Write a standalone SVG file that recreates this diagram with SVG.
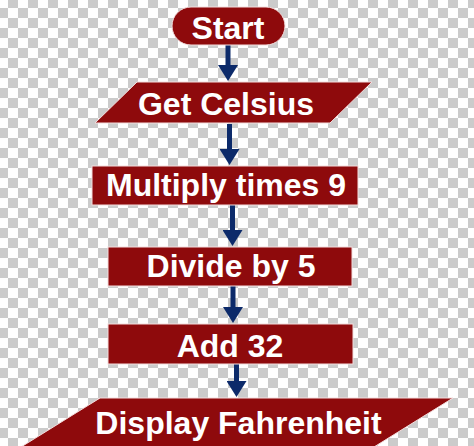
<svg xmlns="http://www.w3.org/2000/svg" width="474" height="446" viewBox="0 0 474 446">
<defs>
<pattern id="checker" width="20" height="20" patternUnits="userSpaceOnUse" patternTransform="translate(-2,-2)">
<rect width="20" height="20" fill="#ffffff"/>
<rect x="10" y="0" width="10" height="10" fill="#cbcbcb"/>
<rect x="0" y="10" width="10" height="10" fill="#cbcbcb"/>
</pattern>
<marker id="head" viewBox="0 0 16 20" markerUnits="userSpaceOnUse" markerWidth="16" markerHeight="20" refX="2" refY="10" orient="auto">
<path d="M0,0 L16,10 L0,20 z" fill="#0c2a6a"/>
</marker>
<style>
.shape{fill:#8e0a0c;stroke:#f3dede;stroke-width:1}
.lbl{font-family:"Liberation Sans",Arial,sans-serif;font-weight:bold;font-size:32px;fill:#ffffff;text-anchor:middle}
.conn{stroke:#0c2a6a;stroke-width:5;fill:none;marker-end:url(#head)}
</style>
</defs>
<rect width="474" height="446" fill="url(#checker)"/>
<g id="connectors">
<line class="conn" x1="228" y1="45" x2="228" y2="67"/>
<line class="conn" x1="229.5" y1="124" x2="229.5" y2="151"/>
<line class="conn" x1="232.5" y1="205" x2="232.5" y2="232"/>
<line class="conn" x1="233" y1="286" x2="233" y2="309"/>
<line class="conn" x1="236.5" y1="364" x2="236.5" y2="383"/>
</g>
<g id="start">
<rect class="shape" x="172" y="7" width="113" height="38" rx="19" ry="19"/>
<text class="lbl" x="228" y="39">Start</text>
</g>
<g id="get-celsius">
<polygon class="shape" points="137,82 372,82 330,123 95,123"/>
<text class="lbl" x="226" y="115">Get Celsius</text>
</g>
<g id="multiply">
<rect class="shape" x="92" y="166" width="266" height="39"/>
<text class="lbl" x="226" y="196">Multiply times 9</text>
</g>
<g id="divide">
<rect class="shape" x="108" y="247" width="244" height="39"/>
<text class="lbl" x="231" y="277">Divide by 5</text>
</g>
<g id="add">
<rect class="shape" x="108" y="324" width="245" height="40"/>
<text class="lbl" x="230" y="357">Add 32</text>
</g>
<g id="display">
<polygon class="shape" points="100,398 453,398 374,447 21,447"/>
<text class="lbl" x="238.5" y="434">Display Fahrenheit</text>
</g>
</svg>
